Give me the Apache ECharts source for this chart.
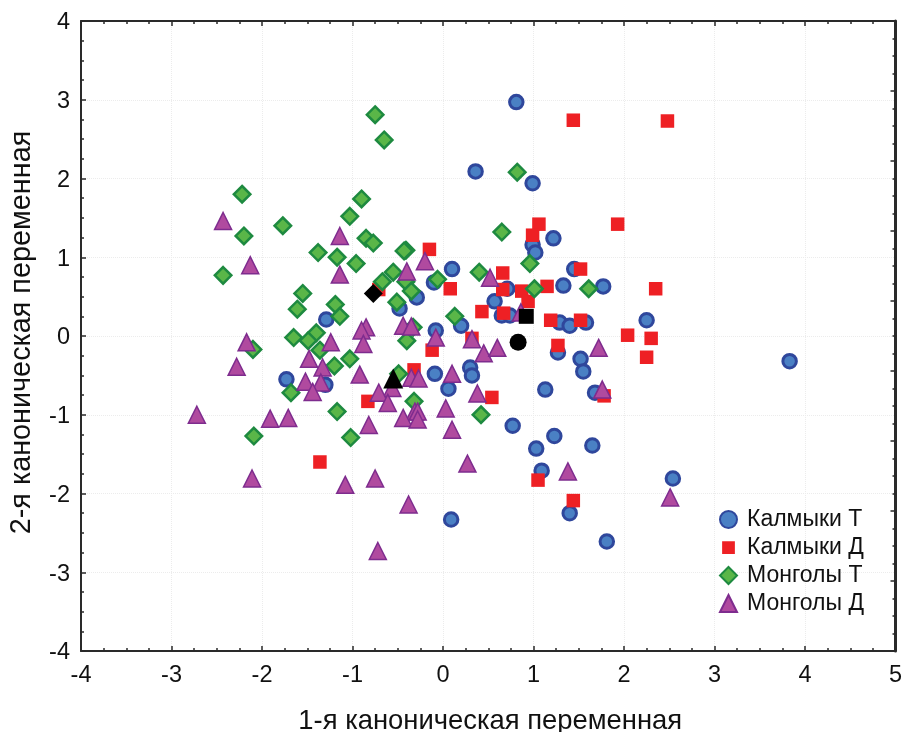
<!DOCTYPE html>
<html><head><meta charset="utf-8">
<style>html,body{margin:0;padding:0;background:#fff}#c{width:905px;height:732px}</style>
<script src="https://cdn.jsdelivr.net/npm/echarts@6/dist/echarts.min.js"></script>
</head><body><div id="c"></div>
<script>
const kalmykT = [[0.81,2.97],[0.36,2.09],[0.99,1.94],[0.99,1.16],[1.02,1.06],[1.22,1.24],[1.45,0.85],[0.10,0.85],[-0.10,0.68],[-0.29,0.49],[-0.48,0.35],[0.57,0.44],[0.71,0.60],[0.65,0.26],[0.74,0.26],[1.33,0.64],[1.77,0.63],[2.25,0.20],[1.29,0.17],[1.40,0.13],[1.58,0.17],[-1.29,0.21],[-0.08,0.07],[0.20,0.13],[1.27,-0.21],[1.52,-0.29],[1.55,-0.45],[1.68,-0.72],[3.83,-0.32],[-1.73,-0.55],[-1.30,-0.62],[-0.09,-0.48],[0.30,-0.40],[0.32,-0.50],[0.06,-0.67],[1.13,-0.68],[0.77,-1.14],[1.03,-1.43],[1.23,-1.27],[1.65,-1.39],[1.09,-1.71],[2.54,-1.81],[1.40,-2.25],[1.81,-2.61],[0.09,-2.33]];
const kalmykD = [[1.44,2.74],[2.48,2.73],[1.93,1.42],[1.06,1.42],[0.99,1.28],[-0.15,1.10],[0.66,0.80],[1.52,0.85],[0.08,0.60],[0.66,0.59],[0.87,0.57],[0.94,0.44],[1.15,0.63],[2.35,0.60],[0.43,0.31],[0.67,0.29],[1.19,0.20],[1.52,0.20],[2.04,0.01],[2.30,-0.03],[2.25,-0.27],[1.27,-0.12],[0.32,-0.03],[-0.12,-0.18],[0.54,-0.78],[1.78,-0.76],[-0.32,-0.43],[-0.83,-0.83],[-0.71,0.59],[-1.36,-1.60],[1.05,-1.83],[1.44,-2.09]];
const mongolT = [[-0.75,2.81],[-0.65,2.49],[0.82,2.08],[-0.90,1.74],[-2.22,1.80],[-1.77,1.40],[-2.20,1.27],[-2.43,0.77],[-1.03,1.52],[-0.85,1.24],[-0.77,1.18],[-0.41,1.09],[-0.43,1.08],[-1.38,1.06],[-1.17,1.00],[-0.96,0.92],[-1.55,0.54],[-1.61,0.34],[-1.19,0.40],[-1.14,0.25],[-0.67,0.69],[-0.55,0.81],[-0.41,0.69],[-0.35,0.57],[-0.51,0.43],[-0.06,0.72],[0.40,0.81],[0.13,0.25],[-1.65,-0.02],[-1.40,0.04],[-1.49,-0.06],[-1.36,-0.18],[-2.10,-0.17],[-0.40,-0.06],[-0.33,0.11],[-1.03,-0.29],[-1.20,-0.38],[-0.49,-0.48],[-1.68,-0.72],[-1.17,-0.96],[-0.32,-0.83],[0.42,-1.00],[-2.09,-1.27],[-1.02,-1.29],[0.65,1.32],[0.96,0.92],[1.01,0.60],[1.61,0.60]];
const mongolD = [[-2.43,1.46],[-2.13,0.90],[-1.14,1.27],[-1.14,0.78],[-0.40,0.82],[-0.20,0.95],[0.52,0.74],[-0.85,0.11],[-0.90,0.07],[-0.88,-0.10],[-0.44,0.13],[-0.35,0.12],[-0.08,-0.02],[0.32,-0.04],[0.45,-0.22],[0.60,-0.15],[0.86,0.30],[1.72,-0.15],[-2.17,-0.08],[-2.28,-0.39],[-1.48,-0.29],[-1.24,-0.08],[-1.33,-0.40],[-1.52,-0.58],[-1.35,-0.59],[-1.44,-0.71],[-0.92,-0.49],[-0.35,-0.53],[-0.27,-0.54],[0.10,-0.48],[-0.56,-0.66],[-0.71,-0.72],[-0.61,-0.85],[0.38,-0.73],[0.03,-0.92],[-0.31,-0.96],[-0.28,-0.96],[-0.44,-1.04],[-0.28,-1.06],[-0.82,-1.13],[0.10,-1.19],[-1.91,-1.05],[-1.71,-1.04],[-2.72,-1.00],[1.76,-0.68],[-2.11,-1.81],[-1.08,-1.89],[-0.75,-1.81],[-0.38,-2.14],[-0.72,-2.73],[0.27,-1.62],[1.38,-1.72],[2.51,-2.05]];
const meanKT = [[0.83,-0.08]];
const meanKD = [[0.92,0.25]];
const meanMT = [[-0.77,0.54]];
const meanMD = [[-0.55,-0.54]];
const seriesNames = ['Калмыки Т','Калмыки Д','Монголы Т','Монголы Д'];
const xTitle = '1-я каноническая переменная';
const yTitle = '2-я каноническая переменная';

const font = 'Liberation Sans';
const dark = '#2a2a2a';
const baseAxis = (min,max,lw)=>({
  type:'value',min,max,interval:1,
  axisLine:{show:true,onZero:false,lineStyle:{color:dark,width:lw||2}},
  axisTick:{show:true,inside:true,length:5,lineStyle:{color:dark,width:1.5}},
  minorTick:{show:true,splitNumber:4,length:3,lineStyle:{color:dark,width:1.5}},
  minorSplitLine:{show:false}
});
const labelStyle = {show:true,color:'#111',fontFamily:font,fontSize:23.5};
const grid = {type:'dotted',color:'#ececec',width:1};
const mean = (name,data,symbol,size)=>({
  name,type:'scatter',data,symbol,symbolSize:size,z:5,silent:true,
  itemStyle:{color:'#000',borderWidth:0,opacity:1}
});
const pts = (name,data,symbol,size,fill,stroke,bw,z)=>({
  name,type:'scatter',data,symbol,symbolSize:size,z,
  itemStyle:{color:fill,borderColor:stroke,borderWidth:bw,opacity:1}
});
const chart = echarts.init(document.getElementById('c'),null,{renderer:'canvas'});
chart.setOption({
  animation:false,
  backgroundColor:'#fff',
  textStyle:{fontFamily:font},
  grid:{left:81,top:21,width:814.5,height:630,containLabel:false,outerBoundsMode:'none'},
  xAxis:[
    Object.assign(baseAxis(-4,5),{position:'bottom',
      axisLabel:Object.assign({},labelStyle,{margin:13}),
      splitLine:{show:true,lineStyle:grid},
      name:xTitle,nameLocation:'middle',nameGap:57,
      nameTextStyle:{fontFamily:font,fontSize:27.4,color:'#111',padding:[0,0,0,4]}}),
    Object.assign(baseAxis(-4,5),{position:'top',axisLabel:{show:false},splitLine:{show:false}})
  ],
  yAxis:[
    Object.assign(baseAxis(-4,4),{position:'left',
      axisLabel:Object.assign({},labelStyle,{margin:11,formatter:'{a|{value}}',
        rich:{a:{color:'#111',fontFamily:font,fontSize:23.5,padding:[4,0,0,0]}}}),
      splitLine:{show:true,lineStyle:grid},
      name:yTitle,nameLocation:'middle',nameGap:44,
      nameTextStyle:{fontFamily:font,fontSize:28.8,color:'#111',padding:[0,0,0,7]}}),
    Object.assign(baseAxis(-4,5,3),{position:'right',axisLabel:{show:false},splitLine:{show:false}})
  ],
  legend:{
    orient:'vertical',left:714,top:503,padding:5,itemWidth:17,itemHeight:17,itemGap:5,
    data:[
      {name:seriesNames[0]},
      {name:seriesNames[1],icon:'path://M0 0L0 0ZM16 16L16 16ZM2 2L14 2L14 14L2 14Z'},
      {name:seriesNames[2]},
      {name:seriesNames[3]}
    ],
    textStyle:{fontFamily:font,fontSize:23,color:'#111',padding:[0,0,0,5]}
  },
  series:[
    pts(seriesNames[0],kalmykT,'circle',13.5,'#4a80c4','#2f479c',3,1),
    pts(seriesNames[1],kalmykD,'rect',13.5,'#ee2024','#ee2024',0,2),
    pts(seriesNames[2],mongolT,'diamond',16.5,'#5ab648','#1e8a40',2.5,3),
    pts(seriesNames[3],mongolD,'triangle',17,'#b04a9f','#7e2c8e',1.5,4),
    mean('mKT',meanKT,'circle',17),
    mean('mKD',meanKD,'rect',15),
    mean('mMT',meanMT,'diamond',19),
    mean('mMD',meanMD,'triangle',20)
  ]
});
</script></body></html>
